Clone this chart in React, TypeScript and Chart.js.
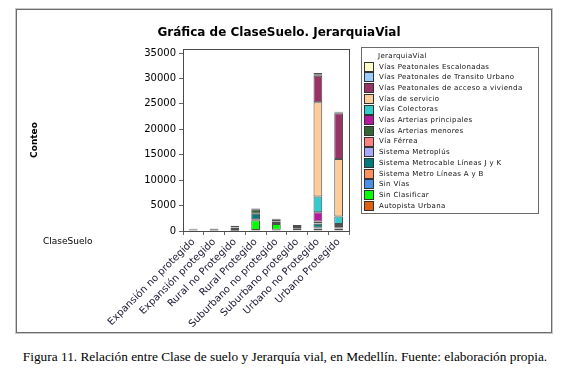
import React, { useEffect, useRef } from 'react';
import { Chart, registerables } from 'chart.js';
Chart.register(...registerables);

const titleText = 'Gráfica de ClaseSuelo. JerarquiaVial';
const legendTitle = 'JerarquiaVial';
const xTitle = 'ClaseSuelo';
const yTitle = 'Conteo';
const caption = 'Figura 11. Relación entre Clase de suelo y Jerarquía vial, en Medellín. Fuente: elaboración propia.';

const categories = [
  'Expansión no protegido',
  'Expansión protegido',
  'Rural no Protegido',
  'Rural Protegido',
  'Suburbano no protegido',
  'Suburbano protegido',
  'Urbano no Protegido',
  'Urbano Protegido',
];

const yTicks = [0, 5000, 10000, 15000, 20000, 25000, 30000, 35000];

// series (bottom of the stack first)
const autopistaUrbana = [50, 50, 50, 200, 250, 150, 450, 400];
const sinClasificar = [0, 0, 350, 1900, 1150, 300, 0, 0];
const sinVias = [30, 80, 0, 200, 150, 0, 100, 50];
const metroAB = [0, 0, 0, 0, 0, 0, 100, 50];
const metrocableJK = [50, 80, 0, 1100, 300, 150, 800, 250];
const metroplus = [0, 0, 0, 0, 0, 0, 80, 40];
const viaFerrea = [0, 0, 0, 0, 0, 0, 60, 0];
const arteriasMenores = [150, 150, 250, 800, 350, 400, 300, 200];
const arteriasPrincipales = [30, 0, 0, 250, 200, 200, 1800, 400];
const colectoras = [0, 0, 0, 0, 0, 0, 3100, 1450];
const servicio = [60, 40, 100, 0, 0, 0, 18550, 11300];
const accesoVivienda = [80, 40, 250, 0, 0, 0, 5200, 9000];
const transitoUrbano = [0, 60, 50, 0, 0, 0, 300, 150];
const escalonadas = [0, 0, 0, 0, 0, 0, 250, 150];

const seriesNames = [
  'Autopista Urbana',
  'Sin Clasificar',
  'Sin Vías',
  'Sistema Metro Líneas A y B',
  'Sistema Metrocable Líneas J y K',
  'Sistema Metroplús',
  'Vía Férrea',
  'Vías Arterias menores',
  'Vías Arterias principales',
  'Vías Colectoras',
  'Vías de servicio',
  'Vías Peatonales de acceso a vivienda',
  'Vías Peatonales de Transito Urbano',
  'Vías Peatonales Escalonadas',
];
const seriesValues = [
  autopistaUrbana, sinClasificar, sinVias, metroAB, metrocableJK, metroplus, viaFerrea,
  arteriasMenores, arteriasPrincipales, colectoras, servicio, accesoVivienda, transitoUrbano, escalonadas,
];
const seriesColors = [
  '#E06010', '#00FF00', '#4A90E8', '#FF9060', '#007A7A', '#A8A8FF', '#FF8080',
  '#336633', '#B8189E', '#33CCCC', '#FFCC99', '#993366', '#99CCFF', '#FFFFCC',
];

const FONT = '"DejaVu Sans", Verdana, sans-serif';

const decorPlugin = {
  id: 'decor',
  afterDraw(chart: any) {
    const { ctx, chartArea: a } = chart;
    ctx.save();
    // plot frame
    ctx.strokeStyle = '#4a4a4a';
    ctx.lineWidth = 1;
    ctx.strokeRect(Math.round(a.left) + 0.5, Math.round(a.top) + 0.5, Math.round(a.right - a.left), Math.round(a.bottom - a.top));
    // title
    ctx.fillStyle = '#000';
    ctx.font = 'bold 12px ' + FONT;
    ctx.textAlign = 'center';
    ctx.textBaseline = 'middle';
    ctx.fillText(titleText, chart.width / 2 - 6, a.top - 16.5);
    // x title (left side)
    ctx.font = '9px ' + FONT;
    ctx.textAlign = 'left';
    ctx.fillText(xTitle, a.left - 140, a.bottom + 10.5);
    // legend
    const lx = Math.round(a.right) + 12;
    const ly = Math.round(a.top) - 2;
    const lw = 177;
    const lh = 166;
    ctx.strokeStyle = '#6a6a6a';
    ctx.strokeRect(lx + 0.5, ly + 0.5, lw, lh);
    ctx.font = '7px ' + FONT;
    try { (ctx as any).letterSpacing = '0.35px'; } catch (e) {}
    ctx.fillStyle = '#111';
    ctx.fillText(legendTitle, lx + 17, ly + 9);
    const ds = chart.data.datasets;
    for (let i = 0; i < ds.length; i++) {
      const d = ds[ds.length - 1 - i];
      const cy = ly + 19.7 + i * 10.7;
      const by = Math.round(cy - 5);
      ctx.fillStyle = d.backgroundColor;
      ctx.fillRect(lx + 3, by, 10, 10);
      ctx.strokeStyle = '#333';
      ctx.strokeRect(lx + 3.5, by + 0.5, 9, 9);
      ctx.fillStyle = '#111';
      ctx.fillText(d.label, lx + 18, cy);
    }
    ctx.restore();
  },
};

export default function App() {
  const ref = useRef<HTMLCanvasElement>(null);
  useEffect(() => {
    if (!ref.current) return;
    const chart = new Chart(ref.current, {
      type: 'bar',
      data: {
        labels: categories,
        datasets: seriesNames.map((name, i) => ({
          label: name,
          data: seriesValues[i],
          backgroundColor: seriesColors[i],
          borderColor: 'rgba(20,20,20,0.75)',
          borderWidth: 1,
          borderSkipped: false,
          barPercentage: 0.42,
          categoryPercentage: 1,
        })),
      },
      options: {
        animation: false,
        responsive: false,
        layout: { padding: { top: 49, right: 221, left: 0, bottom: 0 } },
        plugins: {
          legend: { display: false },
          title: { display: false },
          tooltip: { enabled: false },
        },
        scales: {
          x: {
            stacked: true,
            border: { display: false },
            grid: { display: true, drawOnChartArea: false, drawTicks: true, tickLength: 4, color: '#666' },
            ticks: {
              autoSkip: false,
              minRotation: 45,
              maxRotation: 45,
              padding: 1,
              color: '#1a1a33',
              font: { family: FONT, size: 10 },
            },
            afterFit: (s: any) => { s.height = 109; },
          },
          y: {
            stacked: true,
            min: 0,
            max: 35800,
            border: { display: false },
            grid: { display: true, drawOnChartArea: false, drawTicks: true, tickLength: 4, color: '#666' },
            ticks: {
              padding: 3,
              color: '#000',
              font: { family: FONT, size: 10 },
              callback: (v: any) => String(v),
            },
            afterBuildTicks: (s: any) => { s.ticks = yTicks.map((v) => ({ value: v })); },
            title: {
              display: true,
              text: yTitle,
              color: '#000',
              font: { family: FONT, size: 9, weight: 'bold' },
              padding: { top: 29, bottom: 0 },
            },
            afterFit: (s: any) => { s.width = 183; },
          },
        },
      },
      plugins: [decorPlugin],
    });
    return () => chart.destroy();
  }, []);

  return (
    <div>
      <div
        style={{
          position: 'absolute', left: 16, top: 9, width: 536, height: 324,
          boxSizing: 'border-box', border: '1px solid #6b6b6b', outline: '1px solid #c8c8c8',
        }}
      />
      <canvas ref={ref} width={570} height={340} style={{ position: 'absolute', left: 0, top: 0 }} />
      <div
        style={{
          position: 'absolute', left: 0, top: 349, width: 570, textAlign: 'center',
          fontFamily: '"Liberation Serif", "Times New Roman", serif', fontSize: '13.33px', color: '#000',
        }}
      >
        {caption}
      </div>
    </div>
  );
}
